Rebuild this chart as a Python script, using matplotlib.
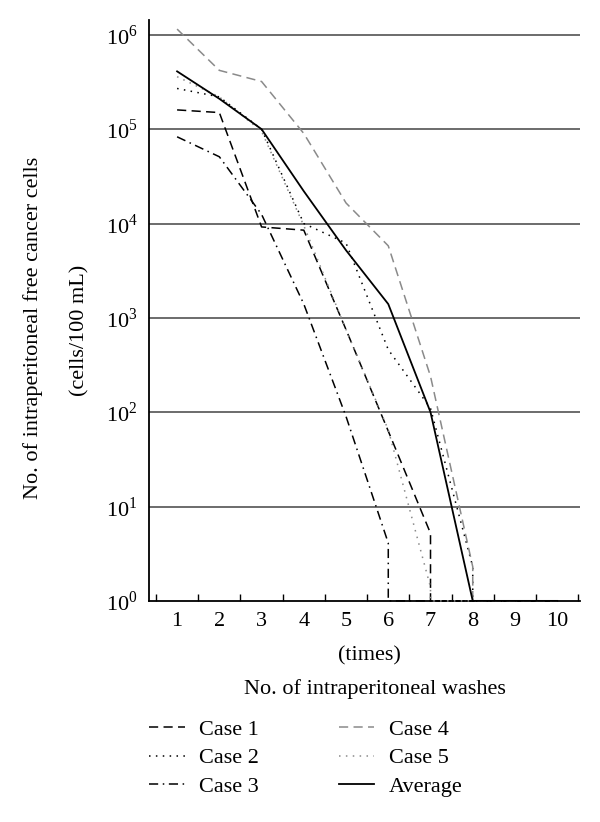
import numpy as np
import matplotlib
matplotlib.use("Agg")
import matplotlib.pyplot as plt
from matplotlib.ticker import FixedLocator, NullFormatter

plt.rcParams['font.family'] = ['Liberation Serif', 'DejaVu Serif']
plt.rcParams['mathtext.fontset'] = 'custom'
plt.rcParams['mathtext.rm'] = 'Liberation Serif'

# number of washes and cancer cell counts (cells/100 mL)
case1_x = [1, 2, 3, 4, 5, 6, 7, 7, 8, 9, 10]
case1_y = [1.6e5, 1.5e5, 9.2e3, 8.5e3, 7.5e2, 63, 5.2, 1, 1, 1, 1]
case2_x = [1, 2, 3, 4, 5, 6, 7, 8, 8, 9, 10]
case2_y = [2.7e5, 2.2e5, 1.0e5, 1.0e4, 6.2e3, 4.6e2, 1.1e2, 2.3, 1, 1, 1]
case3_x = [1, 2, 3, 4, 5, 6, 6, 7, 8, 9, 10]
case3_y = [8.3e4, 5.1e4, 1.25e4, 1.4e3, 90, 4.1, 1, 1, 1, 1, 1]
case4_x = [1, 2, 3, 4, 5, 6, 7, 8, 8, 9, 10]
case4_y = [1.15e6, 4.2e5, 3.2e5, 9.0e4, 1.65e4, 5.8e3, 2.4e2, 2.3, 1, 1, 1]
case5_x = [1, 2, 3, 4, 5, 6, 7, 7, 8, 9, 10]
case5_y = [3.6e5, 2.2e5, 9.5e4, 9.5e3, 7.5e2, 65, 1.4, 1, 1, 1, 1]
avg_x = [1, 2, 3, 4, 5, 6, 7, 8, 9, 10]
avg_y = [4.1e5, 2.1e5, 1.0e5, 2.2e4, 5.2e3, 1.4e3, 1.0e2, 1, 1, 1]

x_ticks = [1, 2, 3, 4, 5, 6, 7, 8, 9, 10]
y_ticks = [1, 1e1, 1e2, 1e3, 1e4, 1e5, 1e6]
y_labels = [r'$10^{0}$', r'$10^{1}$', r'$10^{2}$', r'$10^{3}$',
            r'$10^{4}$', r'$10^{5}$', r'$10^{6}$']

fig = plt.figure(figsize=(6, 8.22), dpi=100)
ax = fig.add_axes([0.248, 0.269, 0.718, 0.707])

gray = '#8a8a8a'
lw = 1.1
ax.plot(case1_x, case1_y, color='black', lw=lw, dashes=(6, 3.5), label='Case 1', clip_on=False, zorder=3)
ax.plot(case2_x, case2_y, color='black', lw=lw, dashes=(1, 3.5), label='Case 2', clip_on=False, zorder=3)
ax.plot(case3_x, case3_y, color='black', lw=lw, dashes=(6, 3, 1, 3), label='Case 3', clip_on=False, zorder=3)
ax.plot(case4_x, case4_y, color=gray, lw=lw, dashes=(6, 3.5), label='Case 4', clip_on=False, zorder=3)
ax.plot(case5_x, case5_y, color=gray, lw=lw, dashes=(1, 3.5), label='Case 5', clip_on=False, zorder=3)
ax.plot(avg_x, avg_y, color='black', lw=1.3, label='Average', clip_on=False, zorder=3)

ax.set_yscale('log')
ax.set_ylim(1, 10 ** 6.16)
ax.set_xlim(0.33, 10.53)

for yv in y_ticks[1:]:
    ax.axhline(yv, color='#444444', lw=1.1, zorder=0)

ax.set_yticks(y_ticks)
ax.set_yticklabels(y_labels, fontsize=16)
ax.yaxis.set_minor_locator(FixedLocator([]))
ax.yaxis.set_minor_formatter(NullFormatter())
ax.tick_params(axis='y', which='both', length=0, pad=8)

ax.set_xticks(x_ticks)
ax.set_xticklabels([str(v) for v in x_ticks], fontsize=16)
ax.xaxis.set_minor_locator(FixedLocator(np.arange(0.5, 11, 1.0)))
ax.tick_params(axis='x', which='major', length=0, pad=8)
ax.tick_params(axis='x', which='minor', direction='in', length=5, width=1.0)

for s in ['top', 'right']:
    ax.spines[s].set_visible(False)
ax.spines['left'].set_linewidth(1.3)
ax.spines['bottom'].set_linewidth(1.3)

fig.text(0.615, 1 - 656 / 822, '(times)', ha='center', va='center', fontsize=16)
fig.text(0.625, 1 - 689 / 822, 'No. of intraperitoneal washes', ha='center', va='center', fontsize=16)
fig.text(33 / 600, 1 - 328 / 822, 'No. of intraperitoneal free cancer cells', rotation=90,
         ha='center', va='center', fontsize=16)
fig.text(80 / 600, 1 - 330 / 822, '(cells/100 mL)', rotation=90,
         ha='center', va='center', fontsize=16)

handles, labels = ax.get_legend_handles_labels()
fig.legend(handles, labels, ncol=2, frameon=False, loc='upper left',
           bbox_to_anchor=(149 / 600, 1 - 719 / 822), fontsize=16,
           handlelength=1.6, handletextpad=0.65, columnspacing=3.6,
           labelspacing=0.37, borderpad=0, borderaxespad=0)

fig.savefig('out.png', dpi=100)
